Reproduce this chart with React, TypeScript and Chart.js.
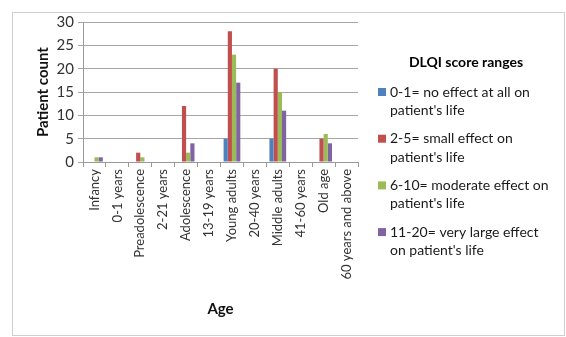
import React, { useEffect, useRef } from "react";
import { Chart, registerables } from "chart.js";

Chart.register(...registerables);

const ageGroups = [
  "Infancy",
  "0-1 years",
  "Preadolescence",
  "2-21 years",
  "Adolescence",
  "13-19 years",
  "Young adults",
  "20-40 years",
  "Middle adults",
  "41-60 years",
  "Old age",
  "60 years and above",
];

const noEffect = [0, 0, 0, 0, 0, 0, 5, 0, 5, 0, 0, 0];
const smallEffect = [0, 0, 2, 0, 12, 0, 28, 0, 20, 0, 5, 0];
const moderateEffect = [1, 0, 1, 0, 2, 0, 23, 0, 15, 0, 6, 0];
const veryLargeEffect = [1, 0, 0, 0, 4, 0, 17, 0, 11, 0, 4, 0];

const seriesLabels = [
  ["0-1= no effect at all on", "patient's life"],
  ["2-5= small effect on", "patient's life"],
  ["6-10= moderate effect on", "patient's life"],
  ["11-20= very large effect", "on patient's life"],
];
const seriesColors = ["#4F81BD", "#C0504D", "#9BBB59", "#8064A2"];
const legendTitle = "DLQI score ranges";

const FONT = "Lato, 'Open Sans', sans-serif";

// Frame around the whole figure plus the multi-line legend on the right.
const decorPlugin = {
  id: "decor",
  beforeDraw(chart: any) {
    const ctx = chart.ctx;
    ctx.save();
    ctx.fillStyle = "#ffffff";
    ctx.fillRect(0, 0, chart.width, chart.height);
    ctx.strokeStyle = "#cfcfcf";
    ctx.lineWidth = 1;
    ctx.strokeRect(12.5, 12.5, 552, 323);
    ctx.restore();
  },
  afterDraw(chart: any) {
    const ctx = chart.ctx;
    ctx.save();
    ctx.fillStyle = "#000";
    ctx.font = `bold 14px ${FONT}`;
    ctx.textAlign = "center";
    ctx.textBaseline = "middle";
    ctx.fillText(legendTitle, 466, 62);

    ctx.font = `14px ${FONT}`;
    ctx.textAlign = "left";
    seriesLabels.forEach((lines, i) => {
      const y = 92 + i * 46.7;
      ctx.fillStyle = seriesColors[i];
      ctx.fillRect(378, y - 4, 8, 8);
      ctx.fillStyle = "#1a1a1a";
      lines.forEach((line, j) => {
        ctx.fillText(line, 390, y + j * 18.5);
      });
    });
    ctx.restore();
  },
};

export default function App() {
  const canvasRef = useRef<HTMLCanvasElement | null>(null);

  useEffect(() => {
    const canvas = canvasRef.current;
    if (!canvas) return;
    const seriesValues = [noEffect, smallEffect, moderateEffect, veryLargeEffect];
    const chart = new Chart(canvas, {
      type: "bar",
      data: {
        labels: ageGroups,
        datasets: seriesValues.map((values, i) => ({
          label: seriesLabels[i].join(" "),
          data: values,
          backgroundColor: seriesColors[i],
          borderWidth: 0,
          categoryPercentage: 0.73,
          barPercentage: 1,
        })),
      },
      options: {
        responsive: false,
        animation: false,
        devicePixelRatio: 1,
        layout: { padding: { left: 30, top: 22, right: 208, bottom: 15 } },
        plugins: {
          legend: { display: false },
          tooltip: { enabled: false },
        },
        scales: {
          x: {
            grid: {
              offset: true,
              drawOnChartArea: false,
              drawTicks: true,
              tickLength: 5,
              color: "#9a9a9a",
            },
            border: { color: "#9a9a9a" },
            ticks: {
              minRotation: 90,
              maxRotation: 90,
              autoSkip: false,
              color: "#333",
              padding: 2,
              font: { family: FONT, size: 13 },
            },
            title: {
              display: true,
              text: "Age",
              color: "#111",
              font: { family: FONT, size: 15, weight: "bold" },
              padding: { top: 4, bottom: 4 },
            },
            afterFit(scale: any) {
              scale.height = 160;
            },
          },
          y: {
            min: 0,
            max: 30,
            ticks: {
              stepSize: 5,
              color: "#333",
              padding: 4,
              font: { family: FONT, size: 15 },
            },
            grid: {
              color: "#a6a6a6",
              tickLength: 5,
            },
            border: { color: "#9a9a9a" },
            title: {
              display: true,
              text: "Patient count",
              color: "#111",
              font: { family: FONT, size: 15, weight: "bold" },
              padding: { top: 4, bottom: 4 },
            },
            afterFit(scale: any) {
              scale.width = 53;
            },
          },
        },
      },
      plugins: [decorPlugin],
    });
    return () => chart.destroy();
  }, []);

  return (
    <div style={{ position: "fixed", left: 0, top: 0, width: 566, height: 337, background: "#fff" }}>
      <canvas ref={canvasRef} width={566} height={337} style={{ display: "block" }} />
    </div>
  );
}
